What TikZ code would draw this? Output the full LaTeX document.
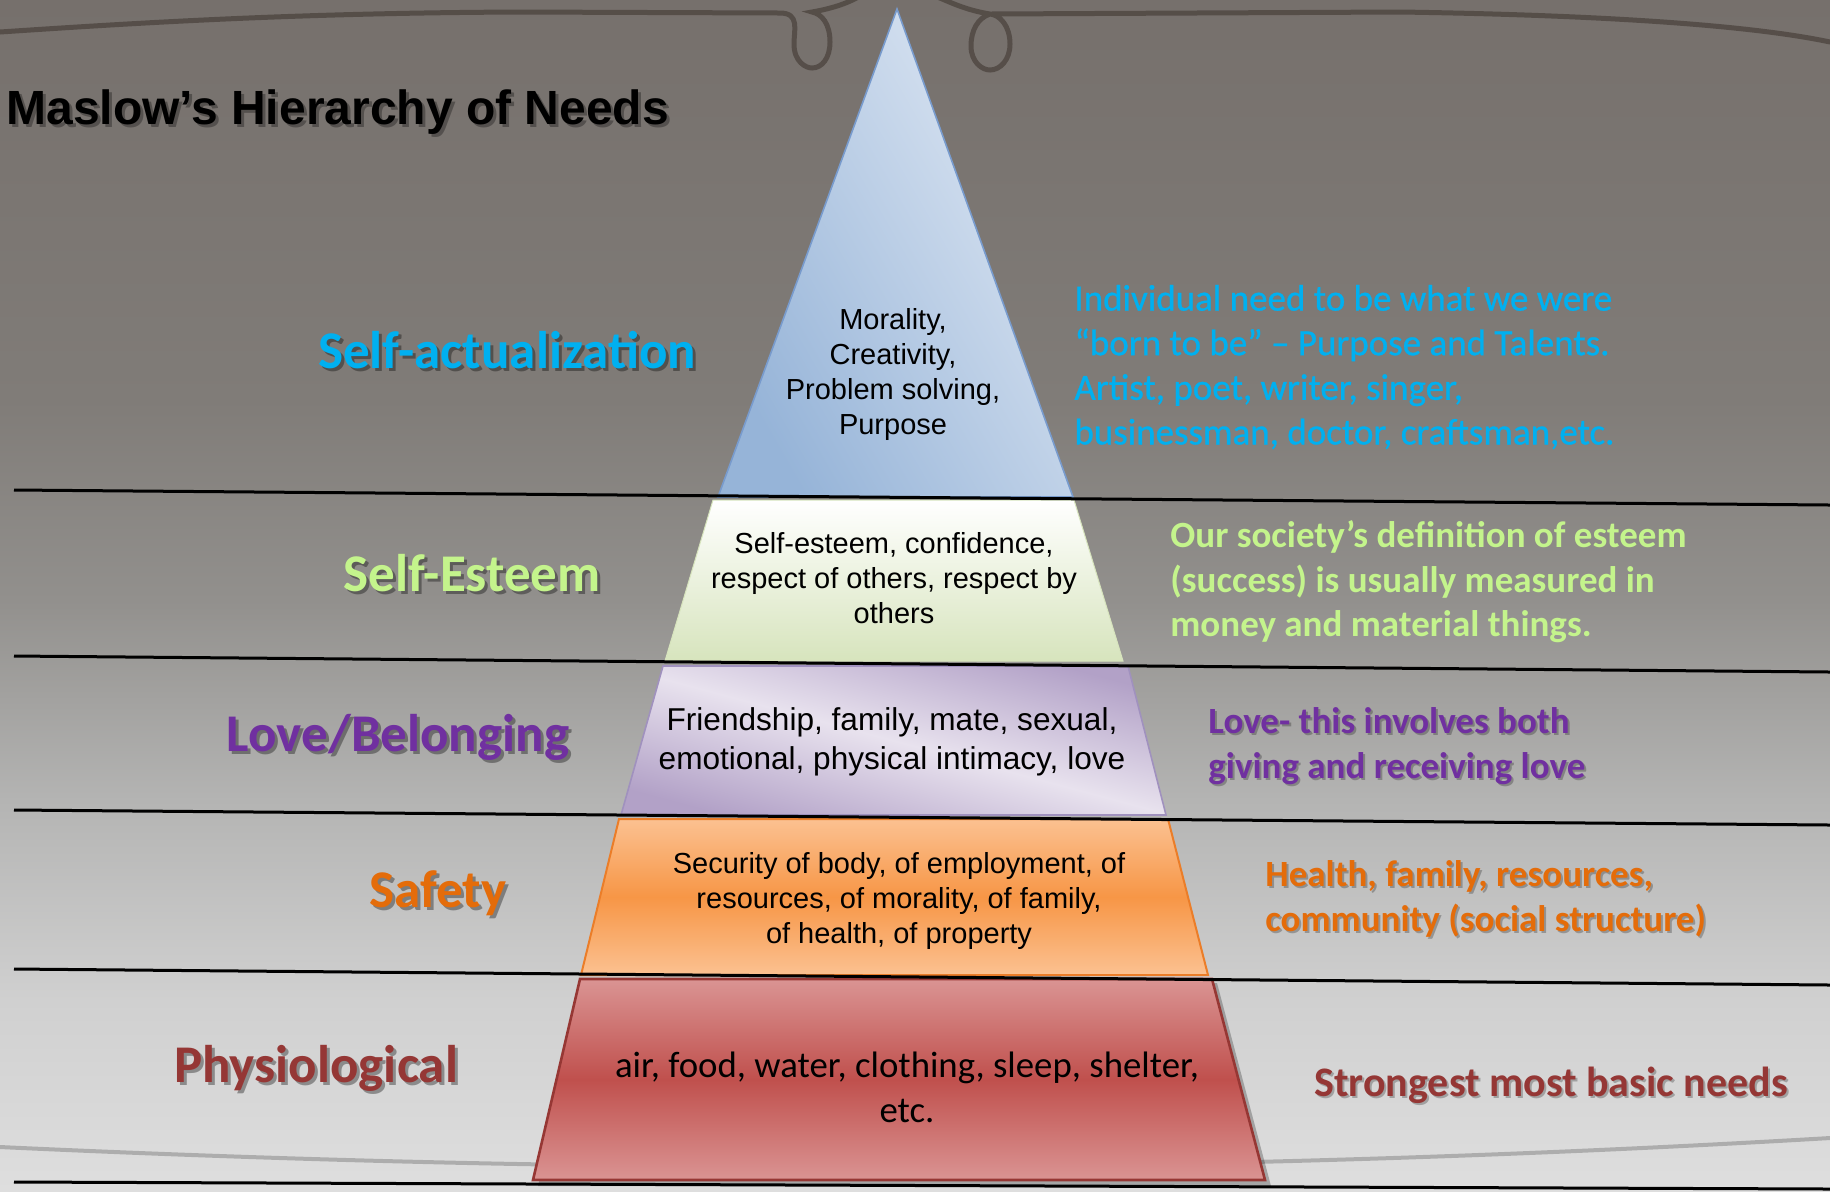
\documentclass[tikz,border=0pt]{standalone}
\usepackage{fontspec}
\setmainfont{Liberation Sans}
\newfontfamily\calib{Carlito}
\newfontfamily\calibglow[FakeBold=0.8]{Carlito}
\usetikzlibrary{calc}
\definecolor{bg0}{RGB}{118,112,108}
\definecolor{bg1}{RGB}{128,124,120}
\definecolor{bg2}{RGB}{146,144,141}
\definecolor{bg3}{RGB}{180,180,179}
\definecolor{bg4}{RGB}{208,208,208}
\definecolor{bg5}{RGB}{222,222,222}
\definecolor{cyanT}{RGB}{0,176,240}
\definecolor{greenT}{RGB}{196,244,140}
\definecolor{purpT}{RGB}{112,48,160}
\definecolor{orT}{RGB}{228,108,10}
\definecolor{redT}{RGB}{149,55,53}
\definecolor{swoosh}{RGB}{72,64,58}
\definecolor{t1a}{RGB}{150,180,216}
\definecolor{t1b}{RGB}{222,231,243}
\definecolor{t1e}{RGB}{120,155,205}
\definecolor{t2b}{RGB}{215,228,189}
\definecolor{t3d}{RGB}{178,161,199}
\definecolor{t3l}{RGB}{232,226,238}
\definecolor{t3e}{RGB}{160,145,190}
\definecolor{t4l}{RGB}{251,193,145}
\definecolor{t4m}{RGB}{247,150,70}
\definecolor{t4e}{RGB}{235,125,40}
\definecolor{t5l}{RGB}{218,148,147}
\definecolor{t5m}{RGB}{192,80,77}
\definecolor{t5e}{RGB}{150,55,52}
\pgfdeclareverticalshading{bgshade}{100bp}{color(0bp)=(bg5); color(25bp)=(bg5); color(33bp)=(bg4); color(41.4bp)=(bg3); color(49.8bp)=(bg2); color(58.2bp)=(bg1); color(75bp)=(bg0); color(100bp)=(bg0)}
\tikzset{
  lab/.style={font=\calib\bfseries\fontsize{26.5}{30}\selectfont, inner sep=0},
  shadowtext/.style={text=black, opacity=0.35},
  tiertext/.style={align=center, inner sep=0, text=black},
  desc/.style={font=\calib\bfseries\fontsize{18.5}{22.3}\selectfont, align=left, anchor=west, inner sep=0},
  hline/.style={line width=1.5pt, black},
  swoo/.style={swoosh, line width=2.5pt, opacity=0.7, line cap=round},
}
\begin{document}
\begin{tikzpicture}[x=0.5pt,y=-0.5pt]
\useasboundingbox (0,0) rectangle (1830,1191);
% background
\shade[shading=bgshade] (0,0) rectangle (1830,1191);
% decorative swoosh
\draw[swoo]
  (0,32) .. controls (150,22) and (300,13) .. (520,12) -- (780,13)
  .. controls (800,13) and (794,30) .. (794,44)
  .. controls (794,62) and (806,68) .. (812,68)
  .. controls (822,68) and (830,58) .. (830,42)
  .. controls (830,24) and (822,14) .. (812,12)
  .. controls (835,8) and (850,2) .. (860,-4);
\draw[swoo]
  (935,-4) .. controls (950,2) and (965,10) .. (990,14)
  .. controls (978,18) and (971,30) .. (971,46)
  .. controls (971,62) and (982,70) .. (990,70)
  .. controls (1000,70) and (1010,60) .. (1010,44)
  .. controls (1010,26) and (1000,15) .. (990,14)
  -- (1400,12) .. controls (1600,15) and (1750,25) .. (1830,42);
% faint bottom curve
\draw[gray, line width=2pt, opacity=0.5]
  (0,1147) .. controls (600,1175) and (1200,1175) .. (1830,1138);
% pyramid tiers
\fill[black, opacity=0.25] (585,983) -- (1217,983) -- (1271,1186) -- (538,1186) -- cycle;
\draw[t1e, line width=0.8pt, left color=t1a, right color=t1b, shading angle=120]
  (897,9) -- (1073,497) -- (718,497) -- cycle;
\draw[t2b, line width=0.5pt, top color=white, bottom color=t2b]
  (713,500) -- (1074,500) -- (1123,661) -- (665,661) -- cycle;
\draw[t3e, line width=0.8pt, top color=t3d, bottom color=t3d, middle color=t3l, shading angle=-15]
  (663,666) -- (1128,666) -- (1166,815) -- (621,815) -- cycle;
\draw[t4e, line width=1pt, top color=t4l, bottom color=t4l, middle color=t4m]
  (619,819) -- (1168,819) -- (1208,975) -- (581,975) -- cycle;
\draw[t5e, line width=1.3pt, top color=t5l, bottom color=t5l, middle color=t5m]
  (580,979) -- (1212,979) -- (1265,1180) -- (533,1180) -- cycle;
% horizontal separator lines
\coordinate (a1) at (14,490);   \coordinate (a2) at (1830,505);
\coordinate (b1) at (14,656);   \coordinate (b2) at (1830,672);
\coordinate (c1) at (14,810);   \coordinate (c2) at (1830,825);
\coordinate (d1) at (14,969);   \coordinate (d2) at (1830,985);
\coordinate (e1) at (14,1182);  \coordinate (e2) at (1830,1189);
\draw[hline] (a1) -- (a2);
\draw[hline] (b1) -- (b2);
\draw[hline] (c1) -- (c2);
\draw[hline] (d1) -- (d2);
\draw[hline] (e1) -- (e2);
% title
\node[anchor=base west, inner sep=0, font=\bfseries\fontsize{24}{28}\selectfont, shadowtext, opacity=0.3] (titleS) at (9,127) {Maslow’s Hierarchy of Needs};
\node[anchor=base west, inner sep=0, font=\bfseries\fontsize{24}{28}\selectfont] (title) at (6,124) {Maslow’s Hierarchy of Needs};
% level labels
\node[lab, shadowtext] (saS) at (510,353) {Self-actualization};
\node[lab, text=cyanT] (sa) at (507,350) {Self-actualization};
\node[lab, shadowtext] (seS) at (475,576) {Self-Esteem};
\node[lab, text=greenT] (se) at (472,573) {Self-Esteem};
\node[lab, shadowtext] (lbS) at (401,740) {Love/Belonging};
\node[lab, text=purpT] (lb) at (398,737) {Love/Belonging};
\node[lab, shadowtext] (sfS) at (441,896) {Safety};
\node[lab, text=orT] (sf) at (438,893) {Safety};
\node[lab, shadowtext] (phS) at (319,1071) {Physiological};
\node[lab, text=redT] (ph) at (316,1068) {Physiological};
% tier texts
\node[tiertext, font=\fontsize{14.5}{17.5}\selectfont] (t1) at (893,374) {Morality,\\Creativity,\\Problem solving,\\Purpose};
\node[tiertext, font=\fontsize{14.5}{17.5}\selectfont] (t2) at (894,578) {Self-esteem, confidence,\\respect of others, respect by\\others};
\node[tiertext, font=\fontsize{15.8}{19.5}\selectfont] (t3) at (892,742) {Friendship, family, mate, sexual,\\emotional, physical intimacy, love};
\node[tiertext, font=\fontsize{14.5}{17.5}\selectfont] (t4) at (899,901) {Security of body, of employment, of\\resources, of morality, of family,\\of health, of property};
\node[tiertext, font=\calib\fontsize{18.4}{22.5}\selectfont] (t5) at (907,1087) {air, food, water, clothing, sleep, shelter,\\etc.};
% descriptions
\node[desc, font=\calibglow\fontsize{18.5}{22.3}\selectfont, text=cyanT] (d1) at (1074,367) {Individual need to be what we were\\“born to be” – Purpose and Talents.\\Artist, poet, writer, singer,\\businessman, doctor, craftsman,etc.};
\node[desc, text=greenT] (d2) at (1170,582) {Our society’s definition of esteem\\(success) is usually measured in\\money and material things.};
\node[desc, shadowtext, opacity=0.25] (d3S) at (1210,748) {Love- this involves both\\giving and receiving love};
\node[desc, text=purpT] (d3) at (1208,746) {Love- this involves both\\giving and receiving love};
\node[desc, shadowtext, opacity=0.25] (d4S) at (1267,901) {Health, family, resources,\\community (social structure)};
\node[desc, text=orT] (d4) at (1265,899) {Health, family, resources,\\community (social structure)};
\node[desc, font=\calib\bfseries\fontsize{21}{25}\selectfont, shadowtext, opacity=0.25] (d5S) at (1316,1087) {Strongest most basic needs};
\node[desc, font=\calib\bfseries\fontsize{21}{25}\selectfont, text=redT] (d5) at (1314,1085) {Strongest most basic needs};
\end{tikzpicture}
\end{document}
